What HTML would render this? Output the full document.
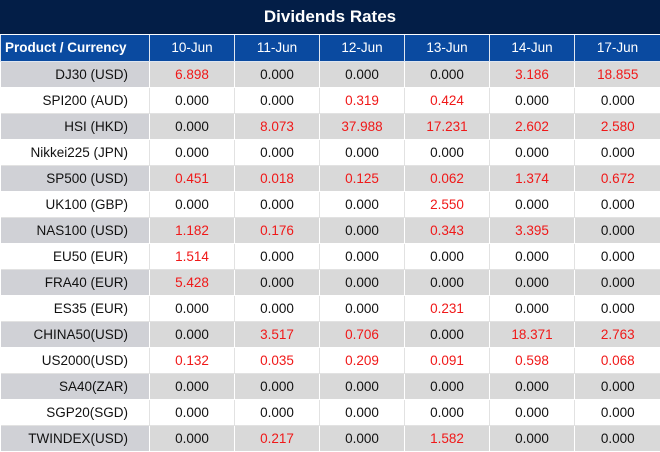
<!DOCTYPE html>
<html><head><style>
*{margin:0;padding:0;box-sizing:border-box}
body{width:660px;height:452px;background:#fff;font-family:"Liberation Sans",sans-serif;overflow:hidden}
.t{height:35px;background:#031e47;color:#fff;font-weight:bold;font-size:17px;text-align:center;line-height:34px;border-bottom:1px solid #fff}
table{border-collapse:collapse;table-layout:fixed;width:660px}
td{height:26px;font-size:13.5px;text-align:center;color:#111;border:1px solid #e2e2e2;padding:0}
tr.h td{background:#0a4aa0;color:#fff;border:1px solid #dfe6f0;border-top:none;height:26px}
tr.h td:first-child{text-align:left;font-weight:bold;padding-left:4px;font-size:13.5px}
td:first-child{text-align:right;padding-right:21px;border-left:none}
td:last-child{border-right:none}
tr.g td{background:#d9d9d9;border-color:#fff}
tr.g td:first-child{background:#d0d1d6}
.r{color:#f01818}
</style></head><body>
<div class="t">Dividends Rates</div>
<table>
<colgroup><col style="width:149px"><col style="width:85px"><col style="width:85px"><col style="width:85px"><col style="width:85px"><col style="width:85px"><col style="width:86px"></colgroup>
<tr class="h"><td>Product / Currency</td><td>10-Jun</td><td>11-Jun</td><td>12-Jun</td><td>13-Jun</td><td>14-Jun</td><td>17-Jun</td></tr>
<tr class="g"><td>DJ30 (USD)</td><td class="r">6.898</td><td>0.000</td><td>0.000</td><td>0.000</td><td class="r">3.186</td><td class="r">18.855</td></tr>
<tr><td>SPI200 (AUD)</td><td>0.000</td><td>0.000</td><td class="r">0.319</td><td class="r">0.424</td><td>0.000</td><td>0.000</td></tr>
<tr class="g"><td>HSI (HKD)</td><td>0.000</td><td class="r">8.073</td><td class="r">37.988</td><td class="r">17.231</td><td class="r">2.602</td><td class="r">2.580</td></tr>
<tr><td>Nikkei225 (JPN)</td><td>0.000</td><td>0.000</td><td>0.000</td><td>0.000</td><td>0.000</td><td>0.000</td></tr>
<tr class="g"><td>SP500 (USD)</td><td class="r">0.451</td><td class="r">0.018</td><td class="r">0.125</td><td class="r">0.062</td><td class="r">1.374</td><td class="r">0.672</td></tr>
<tr><td>UK100 (GBP)</td><td>0.000</td><td>0.000</td><td>0.000</td><td class="r">2.550</td><td>0.000</td><td>0.000</td></tr>
<tr class="g"><td>NAS100 (USD)</td><td class="r">1.182</td><td class="r">0.176</td><td>0.000</td><td class="r">0.343</td><td class="r">3.395</td><td>0.000</td></tr>
<tr><td>EU50 (EUR)</td><td class="r">1.514</td><td>0.000</td><td>0.000</td><td>0.000</td><td>0.000</td><td>0.000</td></tr>
<tr class="g"><td>FRA40 (EUR)</td><td class="r">5.428</td><td>0.000</td><td>0.000</td><td>0.000</td><td>0.000</td><td>0.000</td></tr>
<tr><td>ES35 (EUR)</td><td>0.000</td><td>0.000</td><td>0.000</td><td class="r">0.231</td><td>0.000</td><td>0.000</td></tr>
<tr class="g"><td>CHINA50(USD)</td><td>0.000</td><td class="r">3.517</td><td class="r">0.706</td><td>0.000</td><td class="r">18.371</td><td class="r">2.763</td></tr>
<tr><td>US2000(USD)</td><td class="r">0.132</td><td class="r">0.035</td><td class="r">0.209</td><td class="r">0.091</td><td class="r">0.598</td><td class="r">0.068</td></tr>
<tr class="g"><td>SA40(ZAR)</td><td>0.000</td><td>0.000</td><td>0.000</td><td>0.000</td><td>0.000</td><td>0.000</td></tr>
<tr><td>SGP20(SGD)</td><td>0.000</td><td>0.000</td><td>0.000</td><td>0.000</td><td>0.000</td><td>0.000</td></tr>
<tr class="g"><td>TWINDEX(USD)</td><td>0.000</td><td class="r">0.217</td><td>0.000</td><td class="r">1.582</td><td>0.000</td><td>0.000</td></tr>
</table>
</body></html>
